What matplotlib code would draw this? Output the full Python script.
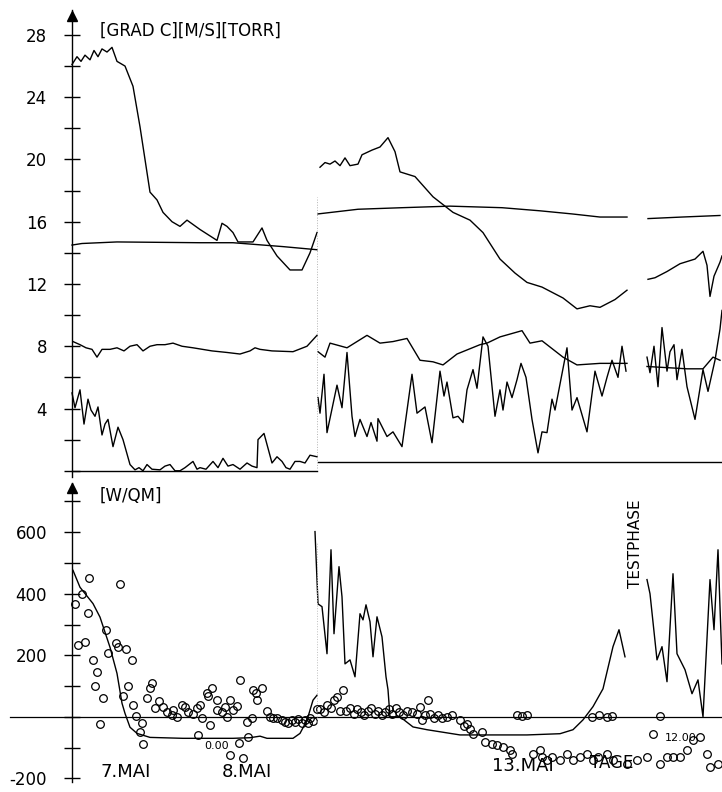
import matplotlib
matplotlib.use('Agg')
from matplotlib import pyplot as plt
from matplotlib.ticker import FixedLocator

# Zeit in Plotschritten ab Achse (Segmente durch Luecken getrennt)
# --- oberes Diagramm: Temperatur [GRAD C], Wind [M/S], Druck [TORR] ---
temp1_t = [0, 5, 9, 13, 18, 22, 26, 30, 35, 40, 45, 53, 61, 68, 73, 78, 85, 91, 100, 108, 115, 128,
           145, 150, 155, 161, 166, 181, 186, 190, 195, 205, 218, 230, 238, 245]
temp1_v = [26.1, 26.6, 26.3, 26.7, 26.4, 27.0, 26.6, 27.1, 26.9, 27.2, 26.3, 26.0, 24.7, 22.1, 20.0,
           17.9, 17.4, 16.6, 16.0, 15.7, 16.1, 15.5, 14.8, 15.9, 15.7, 15.3, 14.7, 14.7, 15.2, 15.6,
           14.8, 13.8, 12.9, 12.9, 14.0, 15.3]
temp2_t = [248, 253, 258, 263, 268, 273, 278, 286, 290, 300, 308, 316, 323, 328, 343, 361, 371, 381,
           398, 411, 428, 443, 455, 470, 491, 505, 518, 528, 543, 555]
temp2_v = [19.5, 19.8, 19.7, 19.9, 19.6, 20.1, 19.6, 19.7, 20.3, 20.6, 20.8, 21.4, 20.5, 19.2, 18.9,
           17.6, 17.1, 16.6, 16.1, 15.3, 13.6, 12.7, 12.1, 11.8, 11.1, 10.4, 10.6, 10.5, 11.0, 11.6]
temp3_t = [576, 583, 595, 608, 623, 631, 635, 638, 642, 648, 650]
temp3_v = [12.3, 12.4, 12.8, 13.3, 13.6, 14.1, 13.2, 11.2, 12.5, 13.4, 13.8]

druck1_t = [0, 10, 45, 128, 161, 211, 245]
druck1_v = [14.5, 14.6, 14.7, 14.65, 14.65, 14.4, 14.2]
druck2_t = [246, 286, 330, 378, 430, 468, 500, 528, 555]
druck2_v = [16.5, 16.8, 16.9, 17.0, 16.9, 16.7, 16.5, 16.3, 16.3]
druck3_t = [576, 610, 648]
druck3_v = [16.2, 16.3, 16.4]

feuchte1_t = [1, 8, 14, 20, 25, 30, 38, 45, 52, 58, 65, 71, 78, 85, 93, 101, 110, 121, 140, 155, 168,
              178, 183, 188, 200, 221, 235, 245]
feuchte1_v = [8.3, 8.1, 7.9, 7.8, 7.3, 7.8, 7.8, 7.9, 7.7, 8.0, 8.1, 7.7, 8.0, 8.1, 8.1, 8.2, 8.0, 7.9,
              7.7, 7.6, 7.5, 7.7, 7.9, 7.8, 7.7, 7.65, 8.0, 8.7]
feuchte2_t = [246, 253, 258, 275, 295, 308, 321, 335, 348, 361, 371, 385, 408, 415, 428, 450, 458,
              470, 491, 505, 528, 555]
feuchte2_v = [7.65, 7.3, 8.2, 7.9, 8.7, 8.2, 8.3, 8.5, 7.1, 7.0, 6.8, 7.5, 8.1, 8.2, 8.6, 9.0, 8.2,
              8.35, 7.3, 6.8, 6.9, 6.9]
feuchte3_t = [575, 615, 631, 641, 648]
feuchte3_v = [6.7, 6.55, 6.55, 7.3, 7.1]

wind1_t = [0, 3, 8, 12, 16, 19, 23, 26, 30, 33, 36, 41, 46, 51, 58, 63, 67, 71, 75, 80, 88, 93, 98,
           103, 108, 113, 121, 125, 128, 134, 141, 146, 151, 156, 161, 168, 175, 180, 185, 186, 192,
           200, 205, 210, 214, 218, 223, 228, 233, 238, 245]
wind1_v = [5.0, 4.05, 5.2, 3.0, 4.6, 3.9, 3.5, 4.1, 2.3, 3.0, 3.3, 1.55, 2.8, 2.0, 0.4, 0.06, 0.2,
           0.0, 0.4, 0.1, 0.06, 0.3, 0.4, 0.0, 0.0, 0.2, 0.6, 0.1, 0.2, 0.1, 0.6, 0.2, 0.8, 0.3, 0.4,
           0.1, 0.5, 0.3, 0.2, 2.0, 2.4, 0.5, 0.9, 0.6, 0.2, 0.1, 0.6, 0.6, 0.5, 1.0, 0.9]
wind2_t = [246, 248, 252, 255, 265, 270, 275, 280, 283, 288, 295, 299, 305, 306, 315, 321, 330, 340,
           345, 353, 360, 368, 372, 375, 381, 386, 391, 395, 401, 405, 411, 416, 423, 428, 431, 435,
           440, 445, 449, 454, 460, 466, 470, 475, 480, 483, 495, 500, 505, 515, 523, 530, 535, 540,
           546, 550, 554]
wind2_v = [4.7, 3.7, 6.2, 2.45, 5.5, 4.05, 7.6, 3.5, 2.2, 3.3, 2.2, 3.1, 1.9, 3.35, 2.2, 2.5, 1.55,
           6.2, 3.7, 4.1, 1.8, 6.4, 4.8, 5.7, 3.4, 3.5, 3.1, 5.2, 6.5, 5.3, 8.6, 8.0, 3.5, 5.2, 3.9,
           5.7, 4.7, 5.85, 6.9, 6.0, 3.3, 1.15, 2.5, 2.45, 4.6, 3.9, 7.9, 3.9, 4.7, 2.5, 6.4, 4.8,
           6.0, 7.1, 6.0, 8.0, 6.4]
wind3_t = [575, 578, 582, 586, 590, 595, 598, 602, 605, 610, 615, 623, 631, 636, 643, 648, 650]
wind3_v = [7.3, 6.3, 8.0, 5.4, 9.2, 6.4, 7.65, 8.1, 5.85, 7.8, 5.4, 3.3, 6.5, 5.1, 7.1, 9.1, 10.3]

basis1_t = [0, 245]
basis1_v = [0.0, 0.0]
basis2_t = [246, 650]
basis2_v = [0.55, 0.55]

# --- unteres Diagramm: Strahlung [W/QM] ---
glob1_t = [1, 8, 21, 28, 38, 45, 50, 53, 58, 65, 78, 111, 161, 178, 188, 195, 221, 228, 235, 241, 245]
glob1_v = [476, 421, 368, 324, 226, 141, 44, 11, -34, -54, -67, -70, -70, -68, -63, -70, -70, -54,
           -11, 54, 70]
glob2_t = [243, 246, 250, 255, 259, 262, 267, 270, 273, 278, 283, 288, 291, 294, 298, 301, 305, 310,
           314, 316, 318, 328, 341, 355, 388, 421, 455, 488, 501, 511, 521, 531, 541, 547, 553]
glob2_v = [602, 367, 358, 205, 543, 270, 488, 390, 172, 185, 130, 335, 315, 364, 309, 195, 325, 260,
           130, 88, 0, 0, -33, -42, -59, -59, -59, -55, -42, -10, 33, 91, 228, 283, 195]
glob3_t = [575, 578, 585, 590, 595, 601, 605, 613, 620, 626, 631, 638, 642, 646, 650]
glob3_v = [446, 400, 185, 228, 114, 465, 205, 153, 75, 120, 0, 446, 283, 543, 172]

bilanz_t = [3, 6, 10, 13, 16, 17, 21, 25, 23, 31, 28, 34, 36, 44, 46, 48, 54, 60, 56, 51, 61, 64,
            70, 68, 71, 75, 80, 78, 87, 83, 91, 95, 100, 105, 101, 110, 113, 116, 121, 125, 128, 130,
            126, 135, 136, 140, 138, 145, 145, 150, 153, 155, 158, 161, 165, 158, 168, 167, 171, 176,
            175, 180, 181, 184, 190, 185, 195, 198, 201, 205, 210, 213, 216, 220, 223, 226, 230, 233,
            236, 238, 241,
            245, 248, 252, 255, 259, 262, 265, 268, 271, 274, 278, 282, 285, 289, 292, 296, 299, 303,
            306, 310, 313, 317, 320, 324, 327, 331, 335, 340, 345, 348, 350, 353, 356, 358, 362, 366,
            370, 375, 380, 388, 392, 395, 398, 401, 410, 413, 420, 425, 431, 438, 440, 445, 450, 455,
            461, 468, 470, 475, 480, 488, 495, 501, 508, 515, 521, 526, 535, 541, 555, 565, 575, 581,
            588, 595, 601, 608, 615, 621, 628, 635, 638, 646, 520, 527, 535, 540, 588]
bilanz_v = [366, 232, 400, 242, 336, 450, 184, 145, 100, 60, -24, 281, 206, 239, 226, 431, 220, 184,
            100, 66, 37, 2, -21, -50, -89, 60, 109, 92, 50, 27, 31, 15, 6, -2, 21, 37, 31, 15, 9, 27,
            37, -5, -60, 76, 66, 92, -28, 56, 21, 15, 31, -2, 53, 21, 34, -125, 118, -86, -135, -67,
            -18, -5, 86, 76, 92, 56, 18, -2, -5, -5, -11, -18, -21, -11, -18, -8, -21, -11, -21, -5,
            -15,
            25, 26, 15, 39, 30, 55, 65, 20, 88, 20, 30, 10, 25, 15, 5, 20, 30, 10, 20, 5, 15, 25, 10,
            30, 15, 5, 20, 15, 10, 33, -10, 5, 55, 10, -5, 5, -5, 0, 5, -10, -30, -23, -39, -55, -49,
            -81, -88, -91, -98, -107, -120, 5, 3, 5, -120, -107, -130, -140, -130, -140, -120, -140,
            -130, -120, -140, -130, -120, -140, -153, -140, -130, -55, -153, -130, -130, -130, -107,
            -75, -65, -120, -163, -153, 0, 5, 0, 2, 3]

nulllinie_t = [-62, 650]
nulllinie_v = [0, 0]

plt.rcParams['font.family'] = ['DejaVu Sans']

fig = plt.figure(figsize=(7.22, 7.92), dpi=100)
ax1 = fig.add_axes([0, 1 - 477 / 792, 1, 467 / 792])
ax2 = fig.add_axes([0, 1 - 782 / 792, 1, 299 / 792])

kw = dict(color='k', lw=1.0)
for t, v in [(temp1_t, temp1_v), (temp2_t, temp2_v), (temp3_t, temp3_v),
             (druck1_t, druck1_v), (druck2_t, druck2_v), (druck3_t, druck3_v),
             (feuchte1_t, feuchte1_v), (feuchte2_t, feuchte2_v), (feuchte3_t, feuchte3_v),
             (wind1_t, wind1_v), (wind2_t, wind2_v), (wind3_t, wind3_v),
             (basis1_t, basis1_v), (basis2_t, basis2_v)]:
    ax1.plot(t, v, **kw)
ax1.axvline(245, ymin=0.02, ymax=0.6, color='0.7', lw=0.7, ls=':')

ax2.plot(nulllinie_t, nulllinie_v, color='k', lw=0.9)
for t, v in [(glob1_t, glob1_v), (glob2_t, glob2_v), (glob3_t, glob3_v)]:
    ax2.plot(t, v, **kw)
ax2.plot(bilanz_t, bilanz_v, 'o', mfc='none', mec='k', ms=5.5, mew=0.9)
ax2.axvline(245, ymin=0.2, ymax=0.8, color='0.75', lw=0.7, ls=':')

ax1.set_ylim(-0.4, 29.6)
ax2.set_ylim(-212, 760)
for ax in (ax1, ax2):
    ax.set_xlim(-72, 650)
    ax.patch.set_visible(False)
    for s in ('top', 'right', 'bottom'):
        ax.spines[s].set_visible(False)
    ax.spines['left'].set_position(('data', 0))
    ax.spines['left'].set_linewidth(1.0)
    ax.set_xticks([])
    ax.tick_params(axis='y', which='both', direction='inout', length=12, width=1.0,
                   labelsize=12, pad=12)

ax1.yaxis.set_major_locator(FixedLocator([4, 8, 12, 16, 20, 24, 28]))
ax1.yaxis.set_minor_locator(FixedLocator([0, 2, 6, 10, 14, 18, 22, 26]))
ax1.set_yticklabels(['4', '8', '12', '16', '20', '24', '28'])
ax2.yaxis.set_major_locator(FixedLocator([-200, 200, 400, 600]))
ax2.yaxis.set_minor_locator(FixedLocator([-100, 0, 100, 300, 500, 700]))
ax2.set_yticklabels(['-200', '200', '400', '600'])

ax1.plot([0], [29.2], marker='^', color='k', ms=7, clip_on=False)
ax2.plot([0], [745], marker='^', color='k', ms=7, clip_on=False)

ax1.text(28, 28.3, '[GRAD C][M/S][TORR]', fontsize=12, va='center', ha='left')
ax2.text(28, 717, '[W/QM]', fontsize=12, va='center', ha='left')
ax2.text(28, -180, '7.MAI', fontsize=13, va='center', ha='left')
ax2.text(150, -180, '8.MAI', fontsize=13, va='center', ha='left')
ax2.text(132, -95, '0.00', fontsize=8, va='center', ha='left')
ax2.text(420, -160, '13.MAI', fontsize=13, va='center', ha='left')
ax2.text(518, -150, 'TAGE', fontsize=12, va='center', ha='left')
ax2.text(593, -70, '12.00', fontsize=8, va='center', ha='left')
ax2.text(563, 420, 'TESTPHASE', fontsize=11, va='bottom', ha='center', rotation=90)

fig.savefig('out.png', dpi=100)
